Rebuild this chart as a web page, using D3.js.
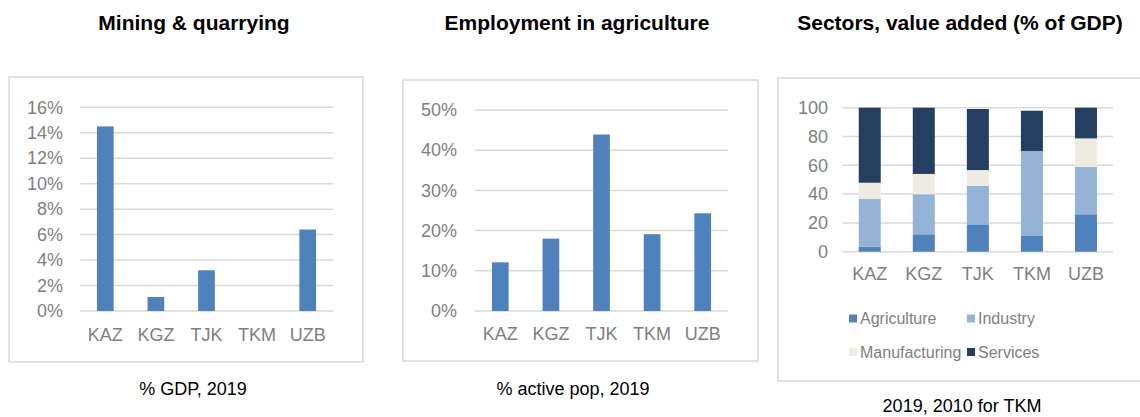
<!DOCTYPE html>
<html>
<head>
<meta charset="utf-8">
<script src="https://cdn.jsdelivr.net/npm/d3@7"></script>
<style>
  html, body { margin: 0; padding: 0; background: #fff; }
  svg { display: block; font-family: "Liberation Sans", Arial, sans-serif; }
</style>
</head>
<body>
<svg id="chart" width="1140" height="417"></svg>
<script>
// Country codes shared by all three panels
const countries = ["KAZ", "KGZ", "TJK", "TKM", "UZB"];

// Mining & quarrying, % of GDP, 2019
const miningShare = [14.5, 1.1, 3.2, 0, 6.4];
const miningTicks = [0, 2, 4, 6, 8, 10, 12, 14, 16];

// Employment in agriculture, % of active population, 2019
const agriEmployment = [12.1, 18, 43.9, 19.1, 24.3];
const employmentTicks = [0, 10, 20, 30, 40, 50];

// Sector value added, % of GDP (2019; 2010 for TKM)
const sectorNames = ["Agriculture", "Industry", "Manufacturing", "Services"];
const agricultureVA = [3.5, 12.1, 19.0, 10.9, 26.0];
const industryVA = [33.1, 27.8, 26.8, 59.0, 32.8];
const manufacturingVA = [11.3, 14.1, 10.9, 0, 19.9];
const servicesVA = [52.1, 46.0, 42.4, 28.0, 21.3];
const sectorTicks = [0, 20, 40, 60, 80, 100];

const sectorColors = ["#4f81bd", "#95b3d7", "#eeece1", "#243f60"];
const barBlue = "#4f81bd";
const gridColor = "#d9d9d9";
const labelGray = "#7f7f7f";

const svg = d3.select("#chart");

// Panel frame, title and caption
function frame(box, title, titleX, caption, captionX, captionY) {
  const g = svg.append("g");
  g.append("rect")
    .attr("x", box.x).attr("y", box.y)
    .attr("width", box.w).attr("height", box.h)
    .attr("fill", "none").attr("stroke", gridColor).attr("stroke-width", 1.5);
  svg.append("text")
    .attr("x", titleX).attr("y", 30)
    .attr("text-anchor", "middle")
    .attr("font-size", 21).attr("font-weight", "bold").attr("fill", "#000")
    .text(title);
  svg.append("text")
    .attr("x", captionX).attr("y", captionY)
    .attr("text-anchor", "middle")
    .attr("font-size", 18).attr("fill", "#000")
    .text(caption);
}

// Horizontal gridlines with left tick labels and bottom category labels
function axes(x, y, ticks, fmt, labelRight, catY) {
  const [x0, x1] = x.range();
  const grid = svg.append("g");
  grid.selectAll("line").data(ticks).join("line")
    .attr("x1", x0).attr("x2", x1)
    .attr("y1", d => y(d)).attr("y2", d => y(d))
    .attr("stroke", gridColor).attr("stroke-width", 1.5);

  const yAxis = d3.axisLeft(y).tickValues(ticks).tickFormat(fmt).tickSize(0).tickPadding(0);
  const ya = svg.append("g").attr("transform", `translate(${labelRight},0)`).call(yAxis);
  ya.select(".domain").remove();
  ya.selectAll("text").attr("font-size", 18).attr("fill", labelGray)
    .attr("font-family", "'Liberation Sans', Arial, sans-serif");

  const xAxis = d3.axisBottom(x).tickSize(0).tickPadding(0);
  const xa = svg.append("g").attr("transform", `translate(0,${catY})`).call(xAxis);
  xa.select(".domain").remove();
  xa.selectAll("text").attr("font-size", 18).attr("fill", labelGray)
    .attr("dy", "0.35em")
    .attr("font-family", "'Liberation Sans', Arial, sans-serif");
}

// ---------- Panel 1: Mining & quarrying ----------
frame({x: 9, y: 77, w: 354, h: 285}, "Mining & quarrying", 194, "% GDP, 2019", 193, 395);
{
  const x = d3.scaleBand().domain(countries).range([80, 333]).paddingInner(0.67).paddingOuter(0.335);
  const y = d3.scaleLinear().domain([0, 16]).range([311, 107.3]);
  axes(x, y, miningTicks, d => d + "%", 63, 335);
  svg.append("g").selectAll("rect").data(countries).join("rect")
    .attr("x", d => x(d))
    .attr("width", x.bandwidth())
    .attr("y", (d, i) => y(miningShare[i]))
    .attr("height", (d, i) => y(0) - y(miningShare[i]))
    .attr("fill", barBlue);
}

// ---------- Panel 2: Employment in agriculture ----------
frame({x: 403, y: 80, w: 355, h: 281}, "Employment in agriculture", 577, "% active pop, 2019", 573, 395);
{
  const x = d3.scaleBand().domain(countries).range([475, 728]).paddingInner(0.67).paddingOuter(0.335);
  const y = d3.scaleLinear().domain([0, 50]).range([311, 110]);
  axes(x, y, employmentTicks, d => d + "%", 457, 334);
  svg.append("g").selectAll("rect").data(countries).join("rect")
    .attr("x", d => x(d))
    .attr("width", x.bandwidth())
    .attr("y", (d, i) => y(agriEmployment[i]))
    .attr("height", (d, i) => y(0) - y(agriEmployment[i]))
    .attr("fill", barBlue);
}

// ---------- Panel 3: Sectors, value added ----------
frame({x: 778, y: 78, w: 380, h: 303}, "Sectors, value added (% of GDP)", 960, "2019, 2010 for TKM", 962, 412);
{
  const x = d3.scaleBand().domain(countries).range([842.7, 1113]).paddingInner(0.593).paddingOuter(0.2965);
  const y = d3.scaleLinear().domain([0, 100]).range([251.7, 107.7]);
  axes(x, y, sectorTicks, d => d, 828, 274);

  const rows = countries.map((c, i) => ({
    country: c,
    Agriculture: agricultureVA[i],
    Industry: industryVA[i],
    Manufacturing: manufacturingVA[i],
    Services: servicesVA[i]
  }));
  const stacked = d3.stack().keys(sectorNames)(rows);
  const color = d3.scaleOrdinal().domain(sectorNames).range(sectorColors);

  svg.append("g").selectAll("g").data(stacked).join("g")
    .attr("fill", s => color(s.key))
    .selectAll("rect").data(s => s).join("rect")
      .attr("x", d => x(d.data.country))
      .attr("width", x.bandwidth())
      .attr("y", d => y(d[1]))
      .attr("height", d => y(d[0]) - y(d[1]));

  // Legend, two columns by two rows
  const legendPos = [
    {x: 849, y: 318.5}, {x: 967, y: 318.5},
    {x: 849, y: 352}, {x: 967, y: 352}
  ];
  const lg = svg.append("g").selectAll("g").data(sectorNames).join("g")
    .attr("transform", (d, i) => `translate(${legendPos[i].x},${legendPos[i].y})`);
  lg.append("rect").attr("x", 0).attr("y", -4).attr("width", 8).attr("height", 8)
    .attr("fill", d => color(d));
  lg.append("text").attr("x", 11).attr("y", 0).attr("dy", "0.35em")
    .attr("font-size", 16).attr("fill", labelGray)
    .text(d => d);
}
</script>
</body>
</html>
